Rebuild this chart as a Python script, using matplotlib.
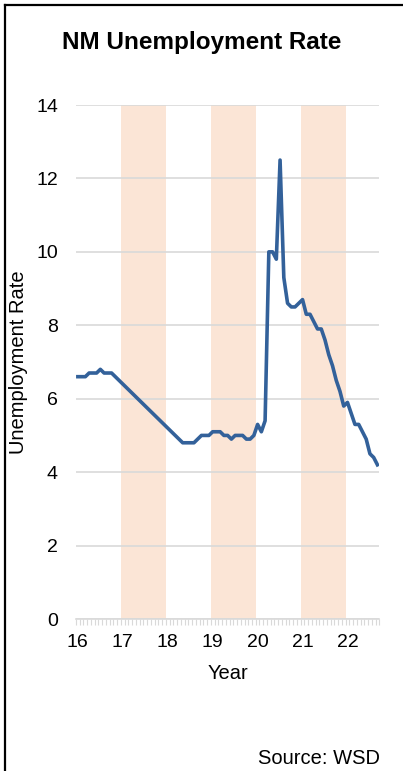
import numpy as np
import matplotlib
matplotlib.use("Agg")
import matplotlib.pyplot as plt
from matplotlib.lines import Line2D

plt.rcParams['font.family'] = ['Liberation Sans', 'DejaVu Sans']

# monthly NM unemployment rate, Jan 2016 .. Sep 2022
rate = [
    6.6, 6.6, 6.6, 6.7, 6.7, 6.7, 6.8, 6.7, 6.7, 6.7, 6.6, 6.5,   # 2016
    6.4, 6.3, 6.2, 6.1, 6.0, 5.9, 5.8, 5.7, 5.6, 5.5, 5.4, 5.3,   # 2017
    5.2, 5.1, 5.0, 4.9, 4.8, 4.8, 4.8, 4.8, 4.9, 5.0, 5.0, 5.0,   # 2018
    5.1, 5.1, 5.1, 5.0, 5.0, 4.9, 5.0, 5.0, 5.0, 4.9, 4.9, 5.0,   # 2019
    5.3, 5.1, 5.4, 10.0, 10.0, 9.8, 12.5, 9.3, 8.6, 8.5, 8.5, 8.6,  # 2020
    8.7, 8.3, 8.3, 8.1, 7.9, 7.9, 7.6, 7.2, 6.9, 6.5, 6.2, 5.8,   # 2021
    5.9, 5.6, 5.3, 5.3, 5.1, 4.9, 4.5, 4.4, 4.2,                  # 2022
]
year_labels = ['16', '17', '18', '19', '20', '21', '22']
shaded_years = ['17', '19', '21']

months = np.arange(len(rate))

fig = plt.figure(figsize=(4.03, 7.71), dpi=100)
ax = fig.add_axes([76 / 403, 1 - 619 / 771, (379.3 - 76) / 403, (619 - 105) / 771])

# alternate-year shading
for yr in shaded_years:
    start = year_labels.index(yr) * 12 - 0.5
    ax.axvspan(start, start + 12, color='#FBE5D6', lw=0, zorder=0)

ax.plot(months, rate, color='#33619A', lw=2.6, solid_joinstyle='round', zorder=3)

ax.set_xlim(-0.5, len(rate) - 0.5)
ax.set_ylim(0, 14)
ax.set_yticks(range(0, 15, 2))
ax.set_xticks(np.arange(len(year_labels)) * 12)
ax.set_xticklabels(year_labels)
ax.set_xticks(np.arange(len(rate) + 1) - 0.5, minor=True)

ax.grid(axis='y', color='#D9D9D9', lw=1.2, zorder=1)
ax.set_axisbelow(True)
for side in ['left', 'right', 'top']:
    ax.spines[side].set_visible(False)
ax.spines['bottom'].set_color('#D9D9D9')
ax.spines['bottom'].set_linewidth(1.2)

ax.tick_params(axis='y', length=0, labelsize=14, pad=13)
ax.tick_params(axis='x', which='major', length=0, labelsize=14, pad=11)
ax.tick_params(axis='x', which='minor', length=4, width=0.8, color='#D9D9D9')

ax.set_xlabel('Year', fontsize=14.5, labelpad=9)
fig.text(19 / 403, 1 - 362 / 771, 'Unemployment Rate', rotation=90,
         ha='center', va='center', fontsize=14.5)

fig.text(0.5, 1 - 42 / 771, 'NM Unemployment Rate', ha='center', va='center',
         fontsize=17.5, fontweight='bold')
fig.text(380 / 403, 1 - 758 / 771, 'Source: WSD', ha='right', va='center', fontsize=14.5)

# frame on the left and top
fig.add_artist(Line2D([5 / 403, 5 / 403], [0, 1 - 5 / 771], color='black', lw=1.6,
                      transform=fig.transFigure))
fig.add_artist(Line2D([5 / 403, 1], [1 - 5 / 771, 1 - 5 / 771], color='black', lw=1.6,
                      transform=fig.transFigure))

fig.savefig('out.png', dpi=100)
